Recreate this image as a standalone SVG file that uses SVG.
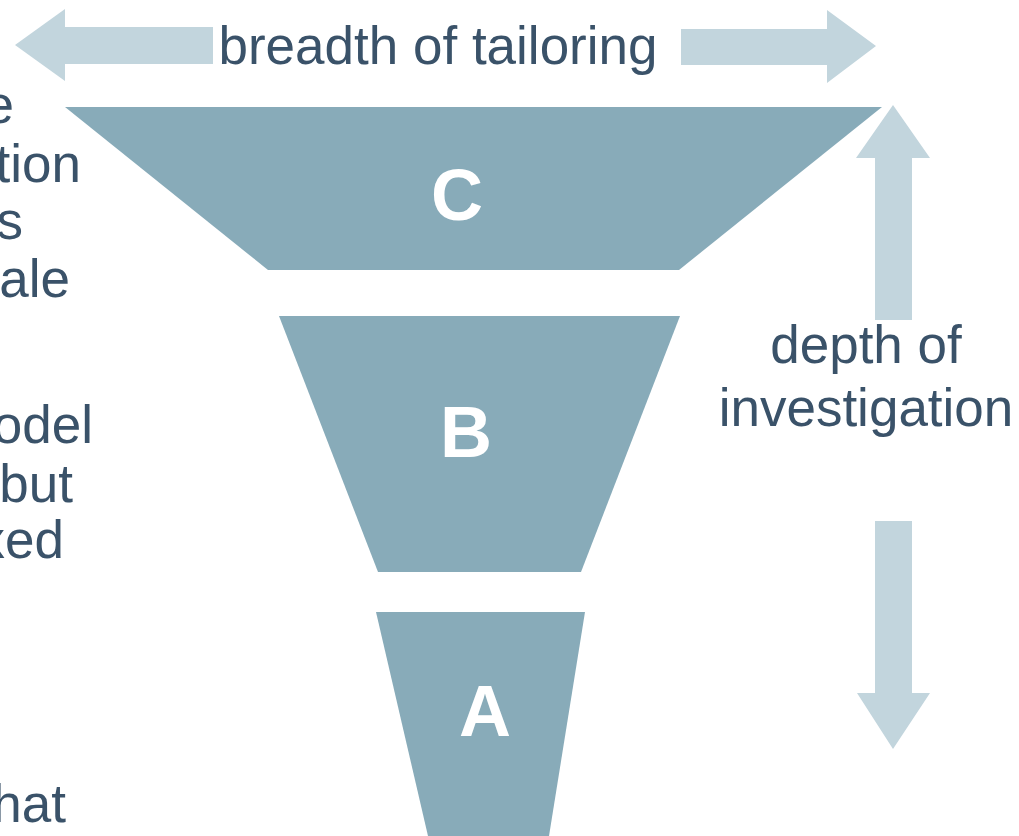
<svg xmlns="http://www.w3.org/2000/svg" width="1019" height="836" viewBox="0 0 1019 836">
<style>
.lbl{font-family:"Liberation Sans",Arial,sans-serif;fill:#3A5269}
.big{font-size:53px}
.side{font-size:53px}
.seg{fill:#88ABB9}
.arr{fill:#C2D5DD}
.let{font-family:"Liberation Sans",Arial,sans-serif;font-weight:bold;font-size:72px;fill:#FFFFFF;text-anchor:middle}
</style>
<rect width="1019" height="836" fill="#FFFFFF"/>
<g id="connectors">
<polygon class="arr" points="15,45 65,9 65,27 213,27 213,64 65,64 65,81"/>
<polygon class="arr" points="876,46 827,10 827,29 681,29 681,65 827,65 827,83"/>
<polygon class="arr" points="893,105 930,158 912,158 912,320 875,320 875,158 856,158"/>
<polygon class="arr" points="893,749 930,693 912,693 912,521 875,521 875,693 857,693"/>
</g>
<g id="node-C">
<polygon class="seg" points="65,107 882,107 679,270 268,270"/>
<text class="let" x="457" y="220">C</text>
</g>
<g id="node-B">
<polygon class="seg" points="279,316 680,316 581,572 378,572"/>
<text class="let" x="466" y="457">B</text>
</g>
<g id="node-A">
<polygon class="seg" points="376,612 585,612 549,836 428,836"/>
<text class="let" x="485" y="736">A</text>
</g>
<g id="label-breadth">
<text class="lbl big" x="438" y="64" text-anchor="middle">breadth of tailoring</text>
</g>
<g id="label-depth">
<text class="lbl big" x="866" y="363" text-anchor="middle">depth of</text>
<text class="lbl big" x="866" y="426" text-anchor="middle">investigation</text>
</g>
<g id="label-left" class="lbl side" text-anchor="end">
<text x="14" y="123">e</text>
<text x="81" y="182">tion</text>
<text x="23" y="239">s</text>
<text x="70" y="297">ale</text>
<text x="93" y="443">odel</text>
<text x="73" y="502">but</text>
<text x="64" y="558">xed</text>
<text x="66" y="822">hat</text>
</g>
</svg>
